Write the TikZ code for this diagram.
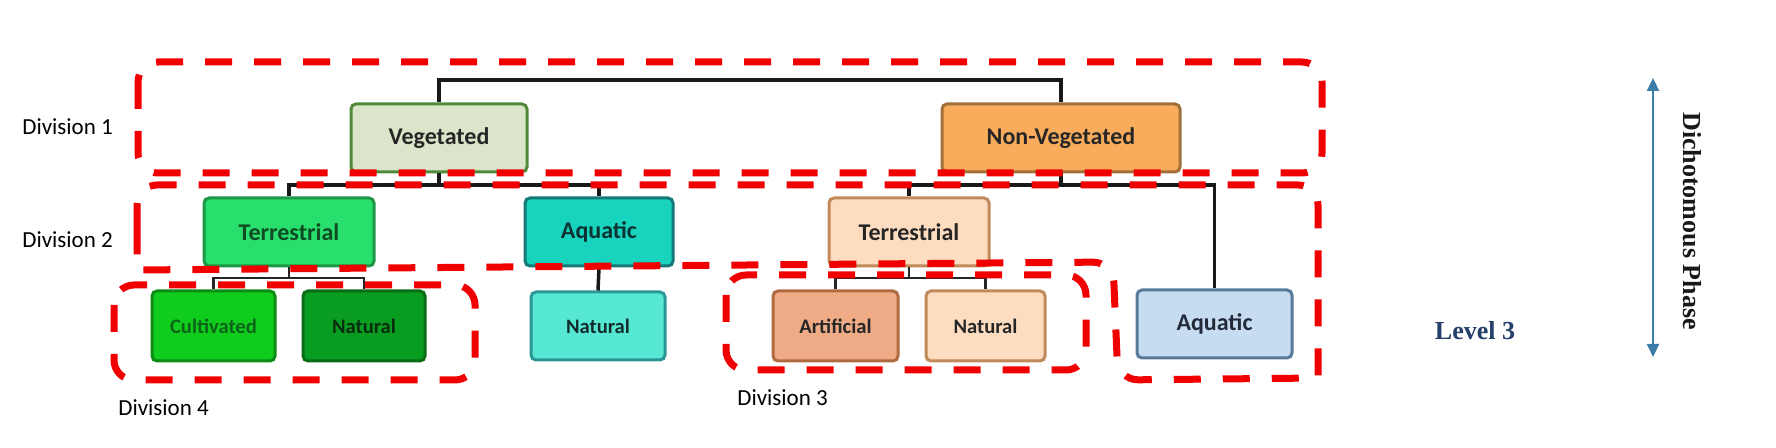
\documentclass[tikz,border=0pt]{standalone}
\usepackage{fontspec}
\setmainfont{Carlito}
\newfontfamily\serifb{Liberation Serif}
\usetikzlibrary{arrows.meta}
\definecolor{redd}{RGB}{240,0,0}
\definecolor{vegf}{RGB}{219,229,201}\definecolor{vegd}{RGB}{79,138,60}
\definecolor{nvf}{RGB}{249,173,92}\definecolor{nvd}{RGB}{160,112,58}
\definecolor{tgf}{RGB}{40,222,108}\definecolor{tgd}{RGB}{30,150,70}
\definecolor{aqf}{RGB}{24,212,190}\definecolor{aqd}{RGB}{20,120,120}
\definecolor{tpf}{RGB}{253,220,192}\definecolor{tpd}{RGB}{192,138,90}
\definecolor{cuf}{RGB}{16,204,28}\definecolor{cud}{RGB}{12,140,20}
\definecolor{ngf}{RGB}{8,156,32}\definecolor{ngd}{RGB}{8,108,22}
\definecolor{ntf}{RGB}{86,232,210}\definecolor{ntd}{RGB}{42,150,150}
\definecolor{arf}{RGB}{238,171,133}\definecolor{ard}{RGB}{176,106,64}
\definecolor{abf}{RGB}{198,220,240}\definecolor{abd}{RGB}{90,122,154}
\definecolor{arrblue}{RGB}{59,124,168}
\definecolor{lvblue}{RGB}{36,64,106}
\begin{document}
\begin{tikzpicture}[x=0.5pt,y=-0.5pt,
  box/.style={draw, line width=1.5pt, rounded corners=2.5pt, inner sep=0pt,
    minimum height=34pt, font=\bfseries\fontsize{12}{14}\selectfont},
  sbox/.style={box, minimum height=35pt, font=\bfseries\fontsize{10.3}{12}\selectfont},
  link/.style={line width=1.75pt, black!90},
  slink/.style={line width=1.1pt, black!85},
  reddash/.style={draw=redd, line width=3.5pt, dash pattern=on 13.5pt off 11pt, rounded corners=10pt},
  divlab/.style={anchor=west, inner sep=0pt, font=\fontsize{11.5}{14}\selectfont}]
\useasboundingbox (0,0) rectangle (1776,448);

% nodes
\node[box, fill=vegf, draw=vegd, text=black!85, minimum width=88pt] (veg) at (439,138) {Vegetated};
\node[box, fill=nvf, draw=nvd, text=black!85, minimum width=119pt] (nv) at (1061,138) {Non-Vegetated};
\node[box, fill=tgf, draw=tgd, text={rgb,255:red,15;green,75;blue,35}, minimum width=85pt] (tg) at (289,232) {Terrestrial};
\node[box, fill=aqf, draw=aqd, text={rgb,255:red,12;green,50;blue,50}, minimum width=74pt] (aqt) at (599,232) {Aquatic};
\node[box, fill=tpf, draw=tpd, text=black!85, minimum width=80pt] (tp) at (909,232) {Terrestrial};
\node[sbox, fill=cuf, draw=cud, text={rgb,255:red,10;green,100;blue,24}, minimum width=61.5pt] (cult) at (213.5,326) {Cultivated};
\node[sbox, fill=ngf, draw=ngd, text={rgb,255:red,8;green,45;blue,14}, minimum width=61pt] (natg) at (364,326) {Natural};
\node[sbox, fill=ntf, draw=ntd, text={rgb,255:red,18;green,45;blue,45}, minimum width=67pt, minimum height=34pt] (natt) at (598,326) {Natural};
\node[sbox, fill=arf, draw=ard, text=black!85, minimum width=62.5pt] (art) at (835.5,326) {Artificial};
\node[sbox, fill=tpf, draw=tpd, text=black!85, minimum width=59.5pt] (natp) at (985.5,326) {Natural};
\node[box, fill=abf, draw=abd, text={rgb,255:red,35;green,42;blue,58}, minimum width=77.5pt] (ab) at (1214.5,324) {Aquatic};

% connectors
\draw[link] (veg.north) |- (nv.north |- 0,80) -- (nv.north);
\draw[link] (veg.south) -- (veg.south |- 0,185);
\draw[link] (tg.north) |- (aqt.north |- 0,185) -- (aqt.north);
\draw[link] (nv.south) -- (nv.south |- 0,185);
\draw[link] (tp.north) |- (ab.north |- 0,185) -- (ab.north);
\draw[slink] (tg.south) -- (tg.south |- 0,278);
\draw[slink] (cult.north) |- (natg.north |- 0,278) -- (natg.north);
\draw[link] (aqt.south) -- (natt.north);
\draw[slink] (tp.south) -- (tp.south |- 0,278);
\draw[slink] (art.north) |- (natp.north |- 0,278) -- (natp.north);

% division labels
\node[divlab] (d1) at (22,127) {Division 1};
\node[divlab] (d2) at (22,240) {Division 2};
\node[divlab] (d4) at (118,408) {Division 4};
\node[divlab] (d3) at (737,398) {Division 3};

% red dashed groups
\draw[reddash] (138,62) rectangle (1322,173);
\draw[reddash] (114,285) rectangle (475,380);
\draw[reddash] (726,275) rectangle (1086,370);
\draw[reddash] (137,230) -- (137,185) -- (1318,185) [sharp corners] -- (1318,378) [rounded corners=10pt] -- (1118,380) -- (1113,262) [sharp corners] -- (137,270) [rounded corners=10pt] -- (137,230);

% right side
\node[font=\serifb\bfseries\fontsize{13}{15}\selectfont, text=lvblue] (lv) at (1475,331) {Level 3};
\coordinate (atop) at (1653,78);
\coordinate (abot) at (1653,357);
\draw[arrblue, line width=1pt, {Triangle[length=6.5pt,width=6pt]}-{Triangle[length=6.5pt,width=6pt]}] (atop) -- (abot);
\node[rotate=-90, font=\serifb\bfseries\fontsize{13}{15}\selectfont, text=black!90] (dp) at (1692,221) {Dichotomous Phase};
\end{tikzpicture}
\end{document}
